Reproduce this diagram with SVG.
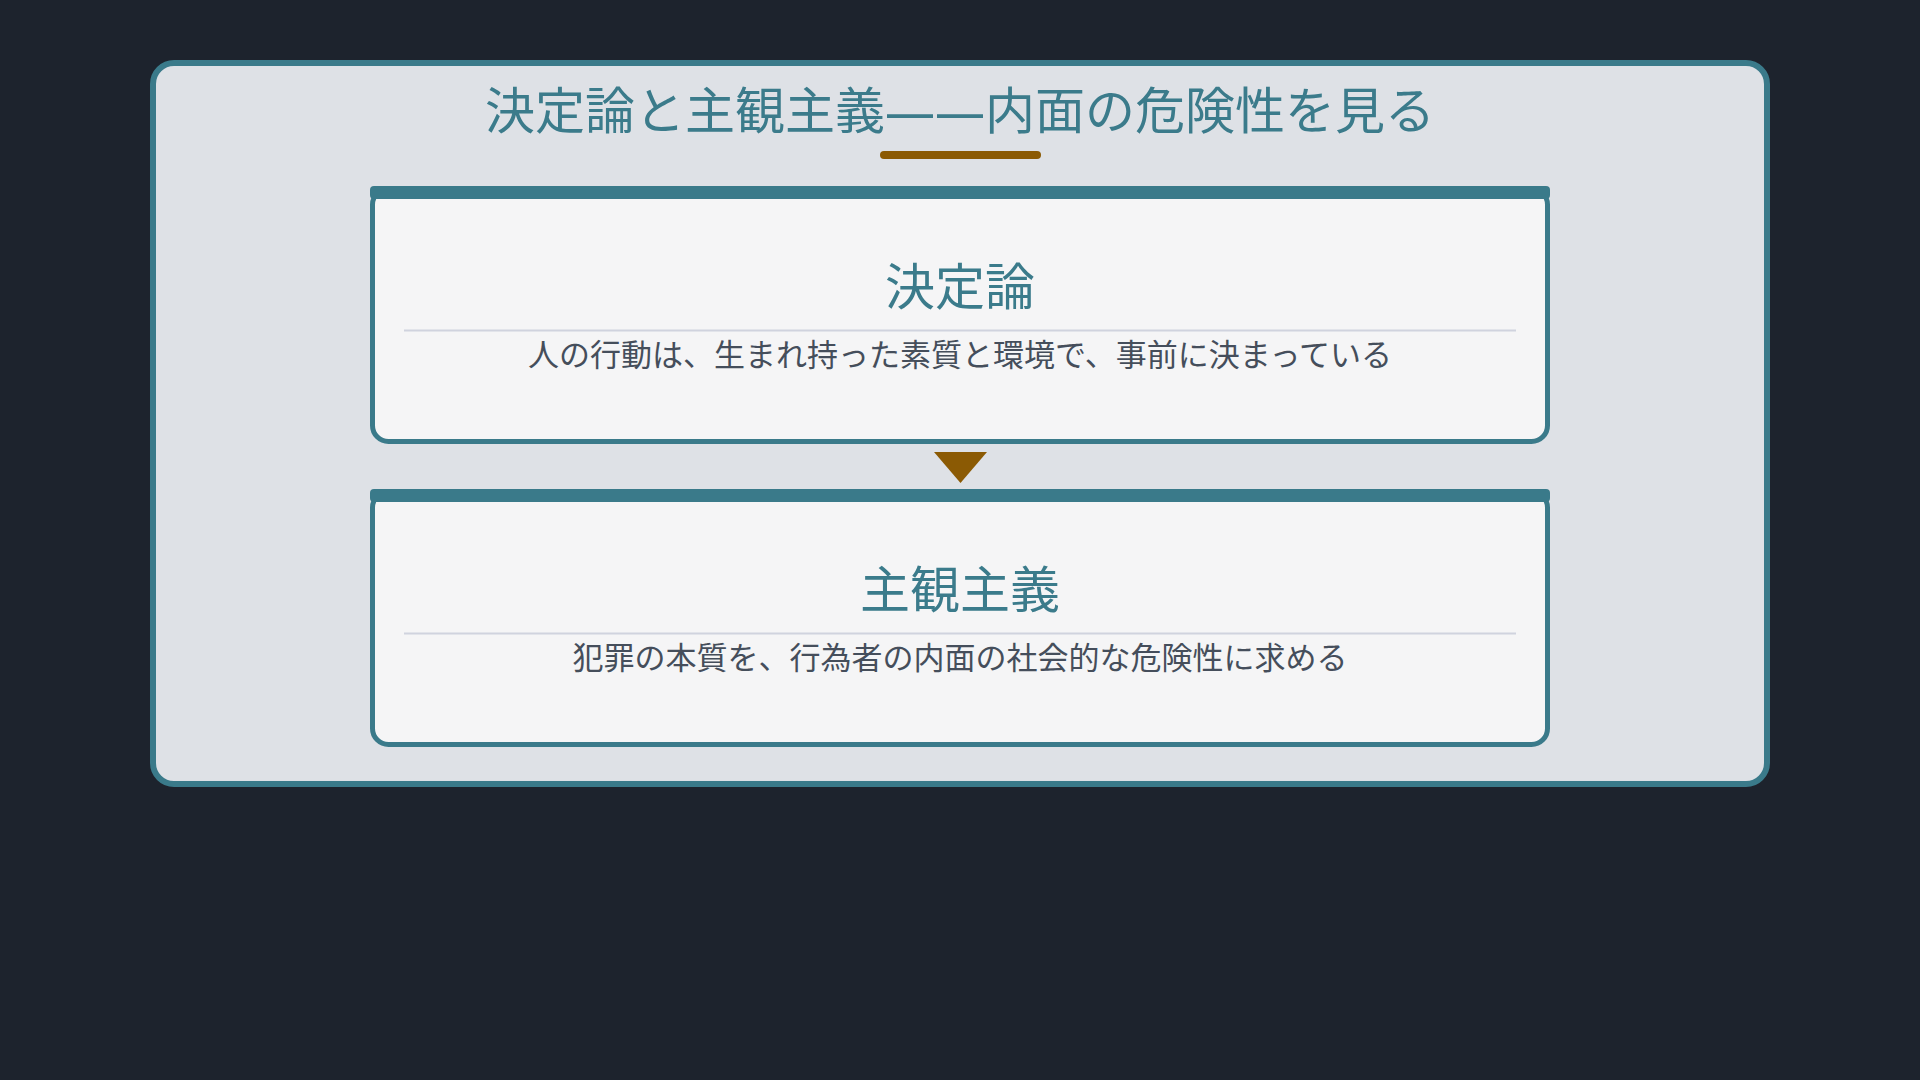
<svg xmlns="http://www.w3.org/2000/svg" width="1920" height="1080" viewBox="0 0 1920 1080">
  <defs>
    <style>
      .jp { font-family: "Noto Sans", "Noto Sans CJK JP", sans-serif; }
      .main-title { font-size: 50px; fill: #3b7b8b; text-anchor: middle; }
      .card-title { font-size: 50px; fill: #3b7b8b; text-anchor: middle; }
      .card-text { font-size: 31px; fill: #454e5b; text-anchor: middle; }
      .card-body { fill: #f5f5f6; stroke: #3a7a8a; stroke-width: 5; }
      .card-bar { fill: #3a7a8a; }
      .divider { stroke: #d0d3de; stroke-width: 2; }
    </style>
  </defs>
  <rect x="0" y="0" width="1920" height="1080" fill="#1d232d"/>

  <g id="container">
    <rect x="153" y="63" width="1614" height="721" rx="21" ry="21" fill="#dee1e6" stroke="#3a7a8a" stroke-width="6"/>
    <text class="jp main-title" x="960" y="129">決定論と主観主義——内面の危険性を見る</text>
    <rect x="880" y="151" width="161" height="8" rx="4" ry="4" fill="#8b5a04"/>
  </g>

  <g id="node-determinism">
    <rect class="card-body" x="372.5" y="188.5" width="1175" height="253" rx="16" ry="16"/>
    <rect class="card-bar" x="370" y="186" width="1180" height="13" rx="4" ry="4"/>
    <text class="jp card-title" x="960" y="305">決定論</text>
    <line class="divider" x1="404" y1="330.5" x2="1516" y2="330.5"/>
    <text class="jp card-text" x="960" y="366">人の行動は、生まれ持った素質と環境で、事前に決まっている</text>
  </g>

  <g id="node-subjectivism">
    <rect class="card-body" x="372.5" y="491.5" width="1175" height="253" rx="16" ry="16"/>
    <rect class="card-bar" x="370" y="489" width="1180" height="13" rx="4" ry="4"/>
    <text class="jp card-title" x="960" y="608">主観主義</text>
    <line class="divider" x1="404" y1="633.5" x2="1516" y2="633.5"/>
    <text class="jp card-text" x="960" y="669">犯罪の本質を、行為者の内面の社会的な危険性に求める</text>
  </g>

  <g id="connectors">
    <polygon points="934,452 987,452 960.5,483" fill="#8b5a04"/>
  </g>
</svg>
